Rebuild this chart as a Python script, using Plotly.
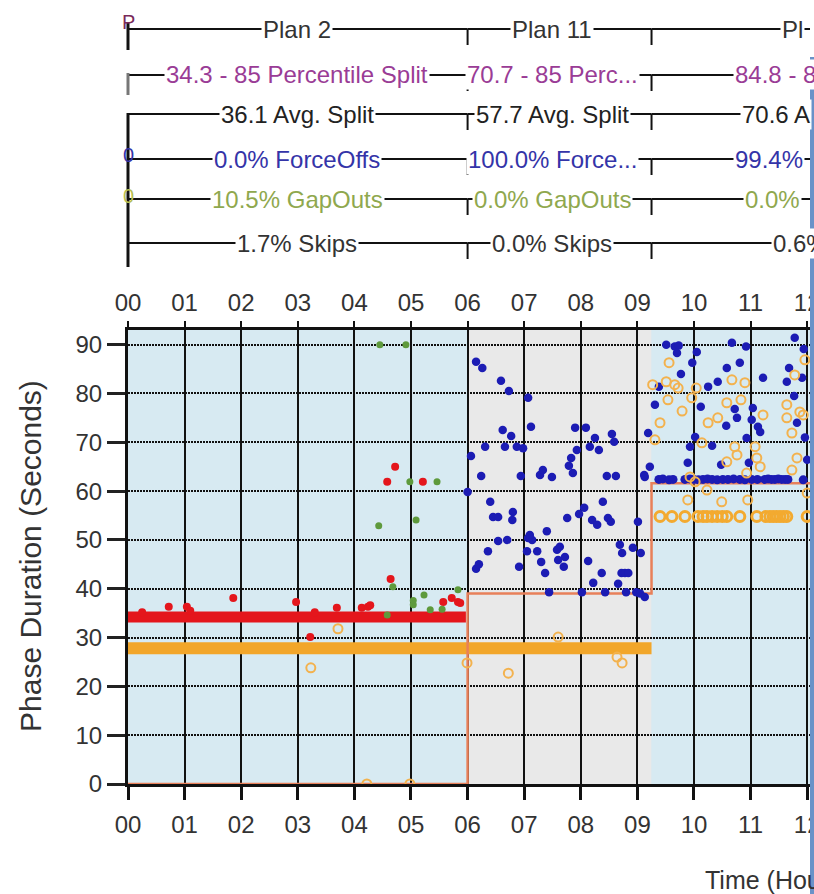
import plotly.graph_objects as go

# ---------------- data ----------------
HOURS = list(range(13))
HOUR_LABELS = [f"{h:02d}" for h in HOURS]
Y_TICKS = list(range(0, 100, 10))

PLAN_START = [0.0, 6.0, 9.25]
PLAN_END = [6.0, 9.25, 15.0]
PLAN_NAMES = ["Plan 2", "Plan 11", "Pl"]
PCT_SPLIT = ["34.3 - 85 Percentile Split", "70.7 - 85 Perc...", "84.8 - 85 F"]
AVG_SPLIT = ["36.1 Avg. Split", "57.7 Avg. Split", "70.6 A"]
FORCE_OFFS = ["0.0% ForceOffs", "100.0% Force...", "99.4%"]
GAP_OUTS = ["10.5% GapOuts", "0.0% GapOuts", "0.0%"]
SKIPS = ["1.7% Skips", "0.0% Skips", "0.6%"]

# programmed split (step line)
prog_x = [0, 6, 6, 9.25, 9.25, 12.05]
prog_y = [0, 0, 39, 39, 61.6, 61.6]

# dense bands (many overlapping points)
maxout_band_x = [0.0, 5.97]
maxout_band_y = [34.2, 34.2]
ped_band_x = [0.0, 9.25]
ped_band_y = [27.8, 27.8]

# max outs (red)
maxout_x = [0.25, 0.72, 1.04, 1.10, 1.86, 2.97, 3.22, 3.30, 3.69, 4.13, 4.24, 4.28,
            4.64, 4.72, 4.58, 5.21, 5.57, 5.72, 5.83, 5.87]
maxout_y = [35.2, 36.3, 36.3, 35.5, 38.1, 37.3, 30.1, 35.2, 36.1, 36.1, 36.3, 36.6,
            42.0, 65.0, 61.9, 61.9, 37.3, 38.1, 37.3, 37.1]

# gap outs (green)
gapout_x = [4.45, 4.91, 4.98, 5.46, 4.43, 5.09, 4.68, 5.23, 5.83, 5.04, 5.34, 4.58, 5.04, 5.55]
gapout_y = [90.0, 90.0, 61.9, 61.9, 52.9, 54.1, 40.4, 38.7, 39.8, 36.7, 35.7, 34.6, 37.6, 35.8]

# force offs (blue)
forceoff_x = [6.00, 6.06, 6.15, 6.26, 6.59, 6.73, 7.07, 7.12, 6.62, 6.77, 6.31, 6.66, 6.87, 6.98,
              6.24, 6.94, 7.28, 7.33, 7.49, 6.40, 6.45, 6.54, 6.80, 6.79, 7.76, 7.40, 6.54, 6.70,
              6.36, 7.05, 7.14, 7.23, 7.30, 6.91, 6.15, 6.20, 7.37, 7.58, 7.63, 7.72, 7.60, 7.70,
              7.44, 7.90, 8.09, 7.93, 7.83, 7.79, 7.86, 8.16, 8.25, 8.32, 8.55, 8.59, 8.46, 8.62,
              8.39, 8.06, 7.97, 8.20, 8.29, 8.48, 8.53, 8.13, 8.37, 8.22, 8.02, 8.43, 8.66, 8.80,
              8.72, 8.78, 8.84, 8.69, 8.73, 8.92, 9.06, 9.01, 9.13, 9.22, 9.19, 8.98, 9.13, 9.05,
              7.07, 7.10, 9.12,
              9.51, 9.66, 9.73, 9.70, 10.05, 9.97, 10.67, 10.92, 10.81, 10.58, 9.77, 9.38, 10.42,
              10.25, 11.22, 11.78, 11.94, 11.68, 11.64, 11.91, 11.77, 9.31, 10.12, 10.72, 10.76,
              10.57, 11.04, 11.02, 11.13, 11.17, 11.82, 10.93, 10.02, 9.93, 10.32, 9.89, 10.48,
              10.97, 12.00, 11.96]
forceoff_y = [59.8, 67.2, 86.5, 85.2, 82.6, 80.5, 79.1, 73.2, 72.5, 71.3, 69.1, 69.1, 69.1, 68.8,
              63.1, 63.1, 63.3, 64.3, 62.9, 57.8, 54.7, 54.7, 55.7, 54.1, 54.5, 51.8, 49.8, 50.0,
              47.7, 47.7, 50.0, 47.7, 45.5, 44.5, 44.1, 45.0, 43.2, 48.0, 48.6, 46.5, 45.9, 44.5,
              39.3, 73.0, 73.0, 68.4, 66.8, 65.2, 63.7, 69.1, 70.9, 68.4, 71.7, 70.1, 63.1, 63.1,
              57.8, 56.6, 55.3, 54.1, 53.1, 54.5, 53.7, 45.7, 43.2, 41.2, 39.3, 39.3, 41.0, 39.3,
              43.2, 43.2, 43.2, 49.0, 47.3, 48.4, 47.3, 53.7, 62.9, 65.0, 71.9, 39.3, 38.3, 39.0,
              50.4, 51.0, 63.3,
              90.0, 89.6, 89.8, 88.3, 88.5, 86.3, 90.4, 89.6, 86.3, 85.2, 84.0, 81.4, 82.4,
              81.4, 83.2, 91.4, 89.1, 85.2, 82.4, 83.2, 79.5, 77.7, 77.3, 76.8, 75.0,
              73.4, 77.0, 74.6, 73.2, 72.1, 74.0, 70.9, 71.1, 69.1, 69.3, 65.8, 65.4,
              65.8, 66.4, 71.0]

# force offs at split (blue band, plan 3)
forceoff_band_x = [9.38, 9.45, 9.56, 9.63, 9.84, 9.93, 10.00, 10.08, 10.16, 10.24, 10.32, 10.41,
                   10.51, 10.60, 10.70, 10.81, 10.90, 11.02, 11.12, 11.25, 11.31, 11.37, 11.43,
                   11.49, 11.55, 11.61, 11.66, 11.93]
forceoff_band_y = [62.4, 62.5, 62.3, 62.4, 62.4, 62.5, 62.4, 62.3, 62.4, 62.5, 62.4, 62.3,
                   62.4, 62.4, 62.5, 62.4, 62.3, 62.4, 62.4, 62.4, 62.5, 62.4, 62.4,
                   62.5, 62.4, 62.4, 62.4, 62.3]

# pedestrian activations (orange open circles)
ped_x = [3.71, 3.23, 4.22, 4.98, 5.99, 6.72, 7.60, 8.64, 8.73,
         9.56, 9.27, 9.51, 9.66, 9.72, 9.54, 9.79, 9.40, 9.31, 10.04, 9.96, 10.67, 10.90, 10.83,
         10.58, 10.42, 10.25, 10.14, 10.72, 10.76, 10.58, 11.22, 11.08, 11.11, 11.17, 11.64,
         11.64, 11.87, 11.93, 11.73, 11.82, 11.73, 11.96, 11.78, 9.93, 10.02, 10.93, 9.89,
         10.49, 10.95, 10.23, 12.00]
ped_y = [31.8, 23.8, 0.0, 0.0, 24.8, 22.7, 30.1, 26.0, 24.8,
         86.3, 81.8, 82.4, 81.8, 81.1, 78.7, 76.4, 74.0, 70.5, 81.1, 79.1, 82.8, 82.2, 78.7,
         78.1, 75.0, 74.0, 69.9, 69.1, 67.4, 66.0, 75.6, 69.1, 66.8, 65.0, 77.7,
         75.0, 76.2, 75.6, 71.9, 66.8, 64.3, 86.9, 83.8, 62.9, 61.9, 63.7, 58.2,
         57.8, 58.2, 60.2, 59.6]
ped_band2_x = [9.40, 9.61, 9.84, 10.07, 10.16, 10.23, 10.32, 10.41, 10.50, 10.58, 10.81, 11.11,
               11.27, 11.34, 11.40, 11.46, 11.52, 11.58, 11.64, 12.00]
ped_band2_y = [54.8, 54.8, 54.8, 54.8, 54.8, 54.8, 54.8, 54.8, 54.8, 54.8, 54.8, 54.8,
               54.8, 54.8, 54.8, 54.8, 54.8, 54.8, 54.8, 54.8]

# ---------------- layout constants ----------------
FIG_W, FIG_H = 814, 894
ML, MR, MT, MB = 128, 4, 330, 110
PLOT_W = FIG_W - ML - MR
PLOT_H = FIG_H - MT - MB
X_MAX = 12.05
Y_MAX = 93

FONT = "Liberation Sans, Arial, sans-serif"
BLUE = "#1c1cb4"
RED = "#e4161c"
GREEN = "#5e9a3c"
ORANGE = "#f2a62a"
PROG = "#e8805a"
LIGHT_BLUE = "#d7eaf2"
LIGHT_GRAY = "#e9e9e9"


def pp(py):
    """pixel row -> paper y"""
    return (FIG_H - MB - py) / PLOT_H


ROW_PY = [29, 75, 114, 159, 199, 243]
ROW_COLORS = ["#333333", "#9a3c96", "#222222", "#3434a8", "#8fa84e", "#333333"]
ROW_TEXTS = [PLAN_NAMES, PCT_SPLIT, AVG_SPLIT, FORCE_OFFS, GAP_OUTS, SKIPS]
SEG_CENTER = [2.99, 7.5]
LAST_LEFT = [11.52, 10.69, 10.81, 10.69, 10.87, 11.36]

fig = go.Figure()

fig.add_trace(go.Scatter(x=ped_band_x, y=ped_band_y, mode="lines",
                         line=dict(color=ORANGE, width=12), hoverinfo="skip", showlegend=False))
fig.add_trace(go.Scatter(x=maxout_band_x, y=maxout_band_y, mode="lines",
                         line=dict(color=RED, width=11), hoverinfo="skip", showlegend=False))
fig.add_trace(go.Scatter(x=prog_x, y=prog_y, mode="lines",
                         line=dict(color=PROG, width=2.5), showlegend=False))
fig.add_trace(go.Scatter(x=forceoff_x, y=forceoff_y, mode="markers",
                         marker=dict(color=BLUE, size=8.5), showlegend=False))
fig.add_trace(go.Scatter(x=forceoff_band_x, y=forceoff_band_y, mode="markers",
                         marker=dict(color=BLUE, size=9), showlegend=False))
fig.add_trace(go.Scatter(x=ped_x, y=ped_y, mode="markers",
                         marker=dict(color="#f3b24e", size=9, symbol="circle-open",
                                     line=dict(width=2)), showlegend=False))
fig.add_trace(go.Scatter(x=ped_band2_x, y=ped_band2_y, mode="markers",
                         marker=dict(color="#f3aa30", size=10, symbol="circle-open",
                                     line=dict(width=3)), showlegend=False))
fig.add_trace(go.Scatter(x=maxout_x, y=maxout_y, mode="markers",
                         marker=dict(color=RED, size=8), showlegend=False))
fig.add_trace(go.Scatter(x=gapout_x, y=gapout_y, mode="markers",
                         marker=dict(color=GREEN, size=7), showlegend=False))
# trace for the top axis
fig.add_trace(go.Scatter(x=[], y=[], xaxis="x2", showlegend=False))

shapes = []
# plan backgrounds
bg_colors = [LIGHT_BLUE, LIGHT_GRAY, LIGHT_BLUE]
for s, e, c in zip(PLAN_START, PLAN_END, bg_colors):
    shapes.append(dict(type="rect", xref="x", yref="y", x0=s, x1=min(e, X_MAX), y0=0, y1=Y_MAX,
                       fillcolor=c, line=dict(width=0), layer="below"))

# plan rows above the chart
annotations = []
for r, (py, col, texts) in enumerate(zip(ROW_PY, ROW_COLORS, ROW_TEXTS)):
    for i, (s, e) in enumerate(zip(PLAN_START, PLAN_END)):
        shapes.append(dict(type="line", xref="x", yref="paper", x0=s, x1=e, y0=pp(py), y1=pp(py),
                           line=dict(color="#111111", width=2)))
        if i < 2:
            annotations.append(dict(xref="x", yref="paper", x=SEG_CENTER[i], y=pp(py),
                                    text=texts[i], showarrow=False, xanchor="center", yanchor="middle",
                                    bgcolor="white", borderpad=1,
                                    font=dict(family=FONT, size=24, color=col)))
        else:
            annotations.append(dict(xref="x", yref="paper", x=LAST_LEFT[r], y=pp(py),
                                    text=texts[i], showarrow=False, xanchor="left", yanchor="middle",
                                    bgcolor="white", borderpad=1,
                                    font=dict(family=FONT, size=24, color=col)))
    for b in PLAN_START[1:]:
        shapes.append(dict(type="line", xref="x", yref="paper", x0=b, x1=b, y0=pp(py), y1=pp(py + 16),
                           line=dict(color="#111111", width=2)))

# left edge of the plan rows
for y0, y1, c in [(22, 50, "#111111"), (73, 95, "#777777"), (113, 267, "#111111")]:
    shapes.append(dict(type="line", xref="paper", yref="paper", x0=0, x1=0, y0=pp(y0), y1=pp(y1),
                       line=dict(color=c, width=3)))
for txt, py, c in [("P", 22, "#7a2a5a"), ("0", 155, "#3434a8"), ("0", 196, "#b8c050")]:
    annotations.append(dict(xref="paper", yref="paper", x=0, y=pp(py), text=txt, showarrow=False,
                            xanchor="center", yanchor="middle", font=dict(family=FONT, size=20, color=c)))

# axis titles
annotations.append(dict(xref="paper", yref="paper", x=(30 - ML) / PLOT_W, y=pp(556),
                        text="Phase Duration (Seconds)", textangle=-90, showarrow=False,
                        xanchor="center", yanchor="middle", font=dict(family=FONT, size=30, color="#333333")))
annotations.append(dict(xref="paper", yref="paper", x=(703 - ML) / PLOT_W, y=pp(880),
                        text="Time (Hours)", showarrow=False, xanchor="left", yanchor="middle",
                        font=dict(family=FONT, size=25, color="#333333")))

# window edge strip at the right
shapes.append(dict(type="rect", xref="paper", yref="paper", x0=1.0, x1=1.0 + MR / PLOT_W,
                   y0=pp(FIG_H), y1=pp(57), fillcolor="#6a92c8", line=dict(width=0), layer="above"))

tickfont = dict(family=FONT, size=24, color="#333333")
fig.update_layout(
    width=FIG_W, height=FIG_H,
    margin=dict(l=ML, r=MR, t=MT, b=MB, pad=0, autoexpand=False),
    paper_bgcolor="white", plot_bgcolor=LIGHT_BLUE,
    shapes=shapes, annotations=annotations,
    xaxis=dict(range=[0, X_MAX], tickmode="array", tickvals=HOURS, ticktext=HOUR_LABELS,
               ticks="outside", ticklen=13, tickwidth=3, tickcolor="#111111",
               showgrid=True, gridcolor="#111111", gridwidth=2, zeroline=False,
               showline=True, linecolor="#111111", linewidth=3, mirror=True, automargin=False,
               tickfont=tickfont, ticklabelstandoff=4, ticklabeloverflow="allow", fixedrange=True),
    xaxis2=dict(range=[0, X_MAX], overlaying="x", side="top", tickmode="array", tickvals=HOURS,
                ticktext=HOUR_LABELS, ticks="outside", ticklen=8, tickwidth=2, tickcolor="#111111",
                showgrid=False, zeroline=False, showline=False, tickfont=tickfont, automargin=False,
                ticklabelstandoff=0, ticklabeloverflow="allow", fixedrange=True),
    yaxis=dict(range=[0, Y_MAX], tickmode="array", tickvals=Y_TICKS,
               ticks="outside", ticklen=18, tickwidth=3, tickcolor="#222222",
               showgrid=True, gridcolor="#111111", gridwidth=2, griddash="2px,1px", zeroline=False,
               showline=True, linecolor="#111111", linewidth=3, mirror=True, automargin=False,
               tickfont=tickfont, ticklabelstandoff=0, fixedrange=True),
    showlegend=False,
)

fig.write_html("out.html", config={"displayModeBar": False},
               post_script="document.body.style.margin='0';document.body.style.overflow='hidden';")
